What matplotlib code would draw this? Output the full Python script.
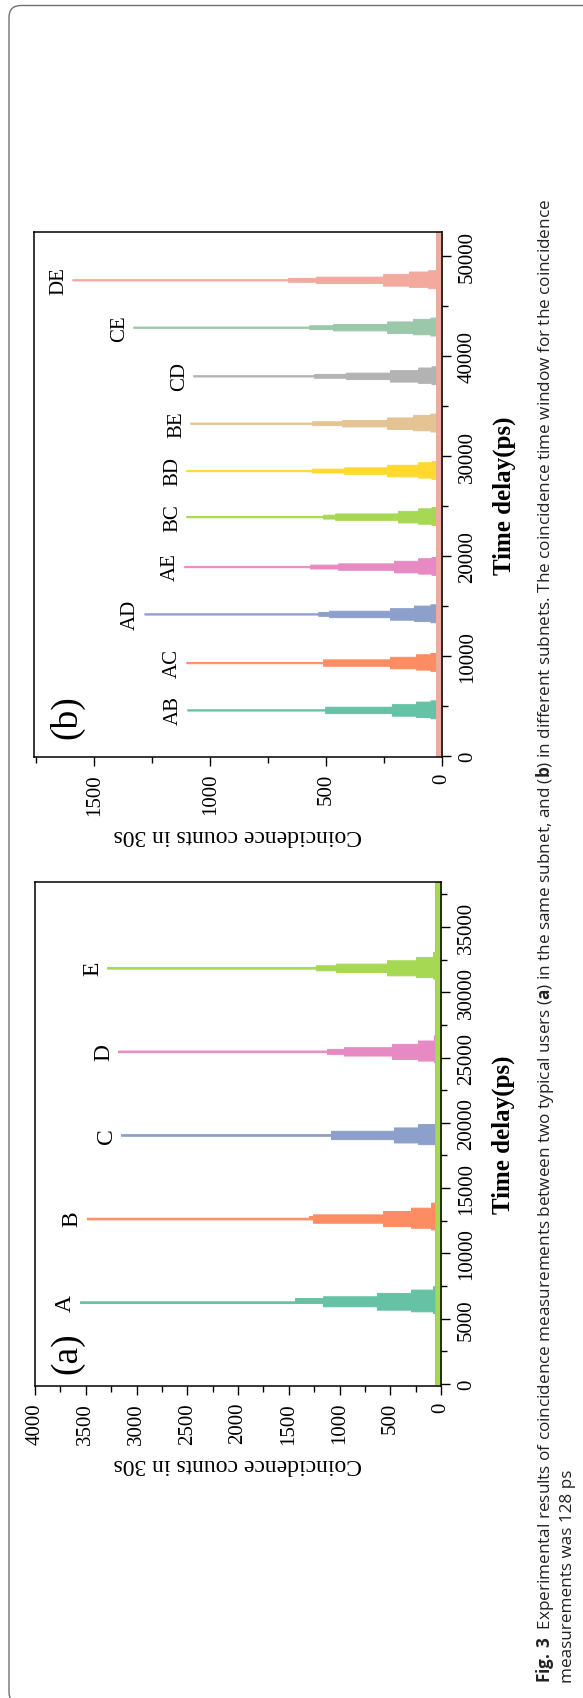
import numpy as np
import matplotlib
matplotlib.use("Agg")
import matplotlib.pyplot as plt
from matplotlib.patches import FancyBboxPatch
from matplotlib.transforms import IdentityTransform

plt.rcParams['font.family'] = ['Liberation Serif', 'DejaVu Serif']
plt.rcParams['mathtext.fontset'] = 'custom'
plt.rcParams['mathtext.rm'] = 'Open Sans'
plt.rcParams['mathtext.bf'] = 'Open Sans:bold'

W, H = 583, 1699
BIN = 128  # ps, histogram bin width

# ---- panel (a): same subnet ----
a_names = ['A', 'B', 'C', 'D', 'E']
a_colors = ['#66c2a5', '#fc8d62', '#8da0cb', '#e78ac3', '#a6d854']
a_times = [6280, 12630, 19070, 25420, 31930]
a_center = 6  # index of the tallest bin in each profile
a_profiles = [
    [79, 296, 631, 631, 1163, 1163, 3557, 1438, 1438, 1163, 631, 631, 296, 296, 79, 79],
    [98, 296, 571, 571, 1261, 1261, 3488, 1300, 1261, 571, 571, 296, 296, 98, 98, 98],
    [59, 227, 463, 463, 1084, 1084, 3153, 1084, 1084, 463, 463, 227, 227, 59, 59, 59],
    [70, 227, 483, 483, 956, 1123, 3182, 1123, 956, 483, 483, 227, 227, 70, 70, 70],
    [79, 246, 532, 532, 1034, 1232, 3290, 1232, 1034, 532, 532, 246, 246, 79, 79, 79],
]
a_background = 55

# ---- panel (b): different subnets ----
b_names = ['AB', 'AC', 'AD', 'AE', 'BC', 'BD', 'BE', 'CD', 'CE', 'DE']
b_colors = ['#66c2a5', '#fc8d62', '#8da0cb', '#e78ac3', '#a6d854',
            '#ffd92f', '#e5c494', '#b3b3b3', '#9cc8aa', '#f4a99f']
b_times = [4600, 9400, 14200, 19000, 23900, 28500, 33300, 38000, 42900, 47600]
b_center = 6
b_profiles = [
    [50, 112, 216, 216, 504, 504, 1099, 504, 504, 216, 216, 112, 112, 50],
    [50, 112, 224, 224, 513, 513, 1103, 513, 513, 224, 224, 112, 112, 50],
    [50, 121, 224, 224, 487, 534, 1284, 534, 487, 224, 224, 121, 121, 50],
    [45, 103, 207, 207, 448, 569, 1112, 569, 448, 207, 207, 103, 103, 45],
    [45, 103, 190, 190, 461, 513, 1103, 513, 461, 190, 190, 103, 103, 45],
    [45, 103, 237, 237, 422, 560, 1103, 560, 422, 237, 237, 103, 103, 45],
    [50, 125, 237, 237, 431, 560, 1086, 560, 431, 237, 237, 125, 125, 50],
    [45, 103, 224, 224, 414, 552, 1073, 552, 414, 224, 224, 103, 103, 45],
    [50, 125, 237, 237, 470, 573, 1332, 573, 470, 237, 237, 125, 125, 50],
    [60, 142, 254, 254, 543, 664, 1595, 664, 543, 254, 254, 142, 142, 60],
]
b_background = 25

caption1 = (r"$\mathbf{Fig.\,3}$  Experimental results of coincidence measurements between two "
            r"typical users ($\mathbf{a}$) in the same subnet, and ($\mathbf{b}$) in different "
            r"subnets. The coincidence time window for the coincidence")
caption2 = "measurements was 128 ps"


def px_axes(left, top, right, bottom):
    return [left / W, 1 - bottom / H, (right - left) / W, (bottom - top) / H]


def draw_panel(ax, names, colors, times, profiles, center, bg, tmin, tmax, cmax,
               tmajor, tminor, cmajor, cminor, tag, tag_xy, name_size):
    grid = np.arange(0, tmax, BIN)
    for name, col, t0, prof in zip(names, colors, times, profiles):
        counts = np.full(len(grid), float(bg))
        i0 = int(round(t0 / BIN)) - center
        counts[i0:i0 + len(prof)] = prof
        ax.fill_betweenx(grid, 0, counts, step='mid', color=col, lw=0.7, ec=col)
        tip = max(prof)
        ax.annotate(name, xy=(tip, grid[i0 + center]), xytext=(-3, 0),
                    textcoords='offset points', rotation=90, ha='right', va='center',
                    fontsize=name_size)
    ax.set_xlim(cmax, 0)
    ax.set_ylim(tmin, tmax)
    ax.yaxis.tick_right()
    ax.yaxis.set_label_position('right')
    ax.set_yticks(tmajor)
    ax.set_yticks(tminor, minor=True)
    ax.set_xticks(cmajor)
    ax.set_xticks(cminor, minor=True)
    ax.tick_params(which='major', direction='out', length=6.5, width=1, labelsize=15, pad=5)
    ax.tick_params(which='minor', direction='out', length=4, width=1)
    ax.tick_params(axis='y', labelrotation=90)
    ax.tick_params(axis='x', labelrotation=90)
    for lbl in ax.get_yticklabels():
        lbl.set_verticalalignment('center')
    for sp in ax.spines.values():
        sp.set_linewidth(1.1)
    ax.set_ylabel('Time delay(ps)', fontsize=18, fontweight='bold', labelpad=11)
    ax.set_xlabel('Coincidence counts in 30s', fontsize=17, rotation=180, labelpad=7)
    ax.text(tag_xy[0], tag_xy[1], tag, transform=ax.transAxes, rotation=90,
            ha='center', va='center', fontsize=27)


fig = plt.figure(figsize=(W / 100, H / 100), dpi=100)

ax_b = fig.add_axes(px_axes(34, 233, 442, 758))
draw_panel(ax_b, b_names, b_colors, b_times, b_profiles, b_center, b_background,
           -100, 52400, 1760,
           np.arange(0, 50001, 10000), np.arange(5000, 50001, 10000),
           [0, 500, 1000, 1500], [250, 750, 1250, 1750],
           '(b)', (0.081, 0.078), 15)

ax_a = fig.add_axes(px_axes(35, 883, 441, 1387))
draw_panel(ax_a, a_names, a_colors, a_times, a_profiles, a_center, a_background,
           -150, 38440, 4000,
           np.arange(0, 35001, 5000), np.arange(2500, 37501, 5000),
           np.arange(0, 4001, 500), np.arange(250, 4000, 500),
           '(a)', (0.079, 0.067), 17)

# rounded frame around the figure (partly cut by the page edge)
box = FancyBboxPatch((9, -6), 640, H - 6.5 + 6, boxstyle='round,pad=0,rounding_size=12',
                     transform=IdentityTransform(), fill=False, ec='#707070', lw=1.0)
fig.patches.append(box)

fig.text(545 / W, 1 - 1683 / H, caption1, rotation=90, ha='center', va='bottom',
         fontsize=12.3, family='Open Sans', color='#222222')
fig.text(568 / W, 1 - 1683 / H, caption2, rotation=90, ha='center', va='bottom',
         fontsize=12.3, family='Open Sans', color='#222222')

fig.savefig('out.png', dpi=100)
